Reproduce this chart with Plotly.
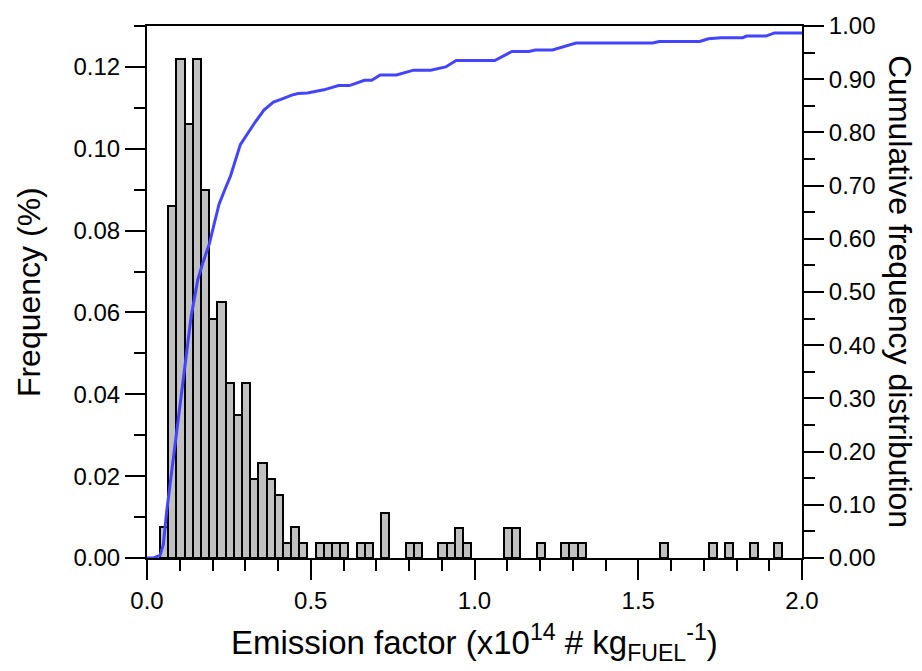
import plotly.graph_objects as go

# Histogram bins (centres, width 0.025) and frequencies
bin_centers = [0.0525, 0.0775, 0.1025, 0.1275, 0.1525, 0.1775, 0.2025, 0.2275, 0.2525, 0.2775,
               0.3025, 0.3275, 0.3525, 0.3775, 0.4025, 0.4275, 0.4525, 0.4775,
               0.5275, 0.5525, 0.5775, 0.6025, 0.6525, 0.6775, 0.7275, 0.8025, 0.8275,
               0.9025, 0.9275, 0.9525, 0.9775, 1.1025, 1.1275, 1.2025,
               1.2775, 1.3025, 1.3275, 1.5775, 1.7275, 1.7775, 1.8525, 1.9275]
frequency = [0.0075, 0.086, 0.122, 0.106, 0.122, 0.090, 0.0585, 0.0626, 0.0427, 0.035,
             0.0427, 0.0192, 0.0233, 0.0192, 0.0154, 0.0037, 0.0075, 0.0037,
             0.0037, 0.0037, 0.0037, 0.0037, 0.0037, 0.0037, 0.0111, 0.0037, 0.0037,
             0.0037, 0.0037, 0.0074, 0.0037, 0.0074, 0.0074, 0.0037,
             0.0037, 0.0037, 0.0037, 0.0037, 0.0037, 0.0037, 0.0037, 0.0037]
bin_width = 0.025

# Cumulative frequency distribution curve
cum_x = [0.0, 0.02, 0.04, 0.05, 0.06, 0.075, 0.09, 0.105, 0.12, 0.135, 0.155, 0.17, 0.19, 0.205,
         0.22, 0.24, 0.255, 0.285, 0.305, 0.331, 0.357, 0.386, 0.409, 0.442, 0.461, 0.49, 0.54,
         0.585, 0.618, 0.664, 0.686, 0.712, 0.762, 0.814, 0.866, 0.912, 0.944, 1.062, 1.114,
         1.166, 1.186, 1.238, 1.31, 1.544, 1.564, 1.688, 1.714, 1.753, 1.819, 1.831, 1.89,
         1.916, 2.0]
cum_y = [0.0, 0.0, 0.005, 0.026, 0.087, 0.162, 0.236, 0.311, 0.386, 0.455, 0.523, 0.554, 0.59,
         0.63, 0.665, 0.696, 0.718, 0.777, 0.796, 0.82, 0.842, 0.857, 0.862, 0.870, 0.873, 0.874,
         0.880, 0.888, 0.888, 0.898, 0.898, 0.908, 0.908, 0.917, 0.917, 0.923, 0.935, 0.935,
         0.952, 0.952, 0.955, 0.955, 0.968, 0.968, 0.971, 0.971, 0.976, 0.978, 0.978, 0.981,
         0.981, 0.987, 0.987]

FONT = "Arial, Liberation Sans, sans-serif"

fig = go.Figure()
fig.add_trace(go.Bar(
    x=bin_centers, y=frequency, width=bin_width,
    marker=dict(color="#c0c0c0", line=dict(color="black", width=2)),
    showlegend=False,
))
fig.add_trace(go.Scatter(
    x=cum_x, y=cum_y, yaxis="y2", mode="lines",
    line=dict(color="#4444ff", width=3), showlegend=False,
))

axis_common = dict(
    showgrid=False, zeroline=False, showline=True, linecolor="black", linewidth=2,
    ticks="outside", ticklen=20, tickwidth=2, tickcolor="black",
    tickfont=dict(family=FONT, size=24, color="black"),
)

fig.update_layout(
    width=922, height=671,
    margin=dict(l=147, r=120, t=18, b=113),
    paper_bgcolor="white", plot_bgcolor="white",
    bargap=0,
    xaxis=dict(range=[0, 2], dtick=0.5, tick0=0, tickformat=".1f", mirror=True,
               minor=dict(dtick=0.1, ticklen=11, tickwidth=2, tickcolor="black", ticks="outside"),
               **axis_common),
    yaxis=dict(range=[0, 0.13], dtick=0.02, tick0=0, tickformat=".2f",
               minor=dict(dtick=0.01, ticklen=11, tickwidth=2, tickcolor="black", ticks="outside"),
               **axis_common),
    yaxis2=dict(range=[0, 1.0], dtick=0.1, tick0=0, tickformat=".2f", overlaying="y", side="right",
                minor=dict(dtick=0.05, ticklen=11, tickwidth=2, tickcolor="black", ticks="outside"),
                **axis_common),
    annotations=[
        dict(text="Emission factor (x10<sup>14</sup> # kg<sub>FUEL</sub><sup>-1</sup>)",
             xref="paper", yref="paper", x=0.5, y=-0.158, xanchor="center", yanchor="middle",
             showarrow=False, font=dict(family=FONT, size=33, color="black")),
        dict(text="Frequency (%)", xref="paper", yref="paper", x=-0.18, y=0.5,
             xanchor="center", yanchor="middle", textangle=-90,
             showarrow=False, font=dict(family=FONT, size=32, color="black")),
        dict(text="Cumulative frequency distribution", xref="paper", yref="paper", x=1.1496, y=0.5,
             xanchor="center", yanchor="middle", textangle=90,
             showarrow=False, font=dict(family=FONT, size=32, color="black")),
    ],
)

fig.write_html("out.html")
